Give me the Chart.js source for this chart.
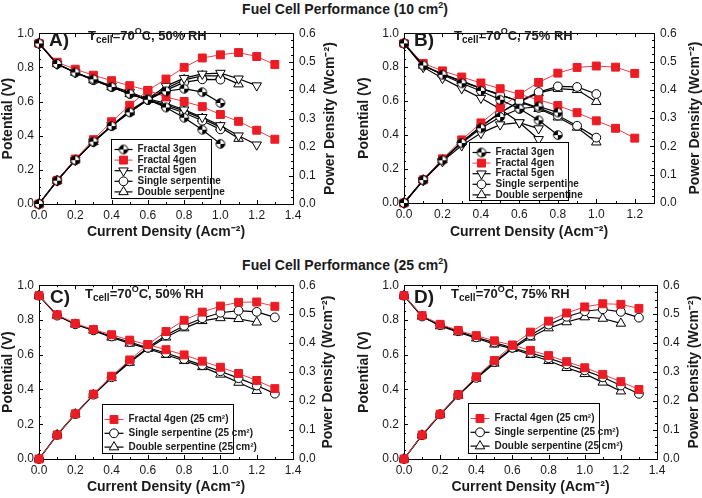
<!DOCTYPE html>
<html>
<head>
<meta charset="utf-8">
<script src="https://cdn.jsdelivr.net/npm/chart.js@4.4.0/dist/chart.umd.min.js"></script>
<style>
  body { margin: 0; background: #fff; width: 702px; height: 498px; position: relative; overflow: hidden;
         font-family: 'Liberation Sans', Arial, sans-serif; color: #1a1a1a; }
  canvas { position: absolute; }
  .title { position: absolute; left: 0; width: 690px; text-align: center; font-weight: bold; font-size: 14px; line-height: 18px; }
  .tag { position: absolute; font-weight: bold; font-size: 19px; line-height: 20px; }
  .cond { position: absolute; font-weight: bold; font-size: 13px; line-height: 16px; white-space: nowrap; }
  .cond sub { font-size: 10px; vertical-align: -3px; line-height: 0; }
  .cond sup { font-size: 9px; vertical-align: 6px; line-height: 0; }
  .title sup { font-size: 9px; vertical-align: 6px; line-height: 0; }
</style>
</head>
<body>
<div class="title" style="top:0px">Fuel Cell Performance (10 cm<sup>2</sup>)</div>
<div class="title" style="top:256px">Fuel Cell Performance (25 cm<sup>2</sup>)</div>

<canvas id="chartA" width="351" height="225" style="left:0;top:20px"></canvas>
<canvas id="chartB" width="351" height="225" style="left:351px;top:20px"></canvas>
<canvas id="chartC" width="351" height="226" style="left:0;top:272px"></canvas>
<canvas id="chartD" width="351" height="226" style="left:351px;top:272px"></canvas>

<div class="tag" style="left:49px;top:30px">A)</div>
<div class="cond" style="left:88px;top:28px">T<sub>cell</sub>=70<sup>O</sup>C, 50% RH</div>
<div class="tag" style="left:414px;top:30px">B)</div>
<div class="cond" style="left:454px;top:28px">T<sub>cell</sub>=70<sup>O</sup>C, 75% RH</div>
<div class="tag" style="left:50px;top:287px">C)</div>
<div class="cond" style="left:85px;top:286px">T<sub>cell</sub>=70<sup>O</sup>C, 50% RH</div>
<div class="tag" style="left:414px;top:287px">D)</div>
<div class="cond" style="left:451px;top:286px">T<sub>cell</sub>=70<sup>O</sup>C, 75% RH</div>

<script>
// current density steps (A/cm2)
const current = [0, 0.1, 0.2, 0.3, 0.4, 0.5, 0.6, 0.7, 0.8, 0.9, 1.0, 1.1, 1.2, 1.3];
const xTicks = [0, 0.2, 0.4, 0.6, 0.8, 1.0, 1.2, 1.4];
const vTicks = [0, 0.2, 0.4, 0.6, 0.8, 1.0];
const pTicks = [0, 0.1, 0.2, 0.3, 0.4, 0.5, 0.6];

// A) 10 cm2, 50% RH
const aFrac3V = [0.94, 0.82, 0.77, 0.73, 0.685, 0.645, 0.61, 0.565, 0.505, 0.435, 0.352];
const aFrac3P = [0, 0.082, 0.154, 0.219, 0.274, 0.322, 0.366, 0.396, 0.405, 0.393, 0.355];
const aFrac4V = [0.94, 0.83, 0.789, 0.754, 0.722, 0.693, 0.665, 0.627, 0.60, 0.57, 0.524, 0.484, 0.432, 0.379];
const aFrac4P = [0, 0.083, 0.158, 0.226, 0.289, 0.347, 0.399, 0.439, 0.48, 0.513, 0.524, 0.532, 0.518, 0.49];
const aFrac5V = [0.94, 0.82, 0.77, 0.73, 0.69, 0.655, 0.615, 0.59, 0.552, 0.508, 0.46, 0.40, 0.347];
const aFrac5P = [0, 0.082, 0.154, 0.219, 0.276, 0.328, 0.369, 0.414, 0.442, 0.457, 0.46, 0.44, 0.416];
const aSingleV = [0.94, 0.82, 0.77, 0.725, 0.685, 0.645, 0.61, 0.571, 0.534, 0.487, 0.437];
const aSingleP = [0, 0.082, 0.154, 0.218, 0.274, 0.323, 0.366, 0.40, 0.427, 0.438, 0.437];
const aDoubleV = [0.94, 0.82, 0.77, 0.725, 0.685, 0.645, 0.61, 0.58, 0.545, 0.50, 0.45, 0.383];
const aDoubleP = [0, 0.082, 0.154, 0.218, 0.274, 0.323, 0.366, 0.406, 0.436, 0.45, 0.45, 0.421];

// B) 10 cm2, 75% RH
const bFrac3V = [0.94, 0.81, 0.755, 0.705, 0.66, 0.608, 0.555, 0.487, 0.40];
const bFrac3P = [0, 0.081, 0.151, 0.212, 0.264, 0.304, 0.333, 0.341, 0.32];
const bFrac4V = [0.94, 0.822, 0.778, 0.742, 0.707, 0.673, 0.64, 0.608, 0.574, 0.532, 0.484, 0.44, 0.382];
const bFrac4P = [0, 0.082, 0.156, 0.223, 0.283, 0.337, 0.384, 0.426, 0.459, 0.479, 0.484, 0.48, 0.458];
const bFrac5V = [0.94, 0.80, 0.735, 0.675, 0.618, 0.554, 0.474, 0.375];
const bFrac5P = [0, 0.08, 0.147, 0.203, 0.247, 0.277, 0.284, 0.263];
const bSingleV = [0.94, 0.81, 0.76, 0.715, 0.675, 0.635, 0.60, 0.56, 0.515, 0.455, 0.385];
const bSingleP = [0, 0.081, 0.152, 0.215, 0.27, 0.318, 0.36, 0.392, 0.412, 0.41, 0.385];
const bDoubleV = [0.94, 0.81, 0.76, 0.72, 0.675, 0.64, 0.595, 0.555, 0.505, 0.445, 0.358];
const bDoubleP = [0, 0.081, 0.152, 0.216, 0.27, 0.32, 0.357, 0.389, 0.404, 0.40, 0.358];

// C) 25 cm2, 50% RH
const cFrac4V = [0.94, 0.83, 0.78, 0.745, 0.715, 0.684, 0.658, 0.629, 0.599, 0.563, 0.528, 0.492, 0.452, 0.405];
const cFrac4P = [0, 0.083, 0.156, 0.224, 0.286, 0.342, 0.395, 0.44, 0.479, 0.507, 0.528, 0.541, 0.542, 0.527];
const cSingleV = [0.94, 0.825, 0.775, 0.74, 0.705, 0.673, 0.64, 0.61, 0.575, 0.54, 0.505, 0.465, 0.423, 0.376];
const cSingleP = [0, 0.083, 0.155, 0.222, 0.282, 0.337, 0.384, 0.427, 0.46, 0.486, 0.505, 0.512, 0.508, 0.489];
const cDoubleV = [0.94, 0.825, 0.775, 0.74, 0.70, 0.665, 0.635, 0.60, 0.565, 0.53, 0.487, 0.44, 0.393];
const cDoubleP = [0, 0.083, 0.155, 0.222, 0.28, 0.333, 0.381, 0.42, 0.452, 0.477, 0.487, 0.484, 0.472];

// D) 25 cm2, 75% RH
const dFrac4V = [0.94, 0.825, 0.775, 0.74, 0.71, 0.68, 0.655, 0.625, 0.595, 0.56, 0.525, 0.487, 0.445, 0.40];
const dFrac4P = [0, 0.083, 0.155, 0.222, 0.284, 0.34, 0.393, 0.438, 0.476, 0.504, 0.525, 0.536, 0.534, 0.52];
const dSingleV = [0.94, 0.82, 0.77, 0.735, 0.70, 0.67, 0.64, 0.61, 0.58, 0.545, 0.51, 0.47, 0.423, 0.375];
const dSingleP = [0, 0.082, 0.154, 0.221, 0.28, 0.335, 0.384, 0.427, 0.464, 0.491, 0.51, 0.517, 0.508, 0.488];
const dDoubleV = [0.94, 0.82, 0.765, 0.73, 0.695, 0.66, 0.635, 0.60, 0.565, 0.525, 0.49, 0.441, 0.39];
const dDoubleP = [0, 0.082, 0.153, 0.219, 0.278, 0.33, 0.381, 0.42, 0.452, 0.473, 0.49, 0.485, 0.468];

const RED = '#ec1c24';
const RED_LINE = '#e0414a';
const INK = '#1a1a1a';
const FONT = "'Liberation Sans', Arial, sans-serif";

// circle with two black quadrants (Fractal 3gen marker)
function quadMarker(r) {
    const c = document.createElement('canvas');
    const s = Math.ceil(r * 2 + 3);
    c.width = c.height = s;
    const g = c.getContext('2d');
    const m = s / 2;
    g.fillStyle = '#fff';
    g.beginPath(); g.arc(m, m, r, 0, Math.PI * 2); g.fill();
    g.fillStyle = '#000';
    g.beginPath(); g.moveTo(m, m); g.arc(m, m, r, Math.PI, 1.5 * Math.PI); g.closePath(); g.fill();
    g.beginPath(); g.moveTo(m, m); g.arc(m, m, r, 0, 0.5 * Math.PI); g.closePath(); g.fill();
    g.strokeStyle = '#000'; g.lineWidth = 1;
    g.beginPath(); g.arc(m, m, r, 0, Math.PI * 2); g.stroke();
    return c;
}
const quad = quadMarker(4.3);

const styles = {
    frac3:  { style: quad, r: 4.3, fill: '#fff', edge: '#000', line: '#000', lw: 1.2 },
    frac4:  { style: 'rect', r: 5.6, fill: RED, edge: RED, line: RED_LINE, lw: 1 },
    frac5:  { style: 'triangle', rot: 180, r: 5.5, fill: '#fff', edge: '#000', line: '#000', lw: 1.2 },
    single: { style: 'circle', r: 4.4, fill: '#fff', edge: '#000', line: '#000', lw: 1.2 },
    double: { style: 'triangle', r: 5.5, fill: '#fff', edge: '#000', line: '#000', lw: 1.2 }
};

function makeSets(label, st, volts, power) {
    const base = {
        label: label, borderColor: st.line, backgroundColor: st.fill,
        pointBackgroundColor: st.fill, pointBorderColor: st.edge,
        pointStyle: st.style, pointRotation: st.rot || 0, pointRadius: st.r,
        pointHoverRadius: st.r, pointBorderWidth: 1, borderWidth: st.lw,
        tension: 0, clip: false
    };
    return [
        { ...base, yAxisID: 'y', data: volts.map((v, i) => ({ x: current[i], y: v })) },
        { ...base, yAxisID: 'y2', data: power.map((v, i) => ({ x: current[i], y: v })) }
    ];
}

// box, inward ticks
const framePlugin = {
    id: 'frame',
    beforeDatasetsDraw(chart) {
        const { ctx, chartArea: a, scales } = chart;
        ctx.save();
        ctx.strokeStyle = '#000';
        ctx.lineWidth = 1;
        ctx.strokeRect(Math.round(a.left) + 0.5, Math.round(a.top) + 0.5,
                       Math.round(a.width), Math.round(a.height));
        ctx.beginPath();
        const tick = (scale, v, major, side) => {
            const len = major ? 4 : 2;
            const p = Math.round(scale.getPixelForValue(v)) + 0.5;
            if (side === 'bottom') { ctx.moveTo(p, a.bottom); ctx.lineTo(p, a.bottom - len); }
            if (side === 'top') { ctx.moveTo(p, a.top); ctx.lineTo(p, a.top + len); }
            if (side === 'left') { ctx.moveTo(a.left, p); ctx.lineTo(a.left + len, p); }
            if (side === 'right') { ctx.moveTo(a.right, p); ctx.lineTo(a.right - len, p); }
        };
        const xs = scales.x;
        for (let i = 0; i * 0.1 <= xs.max + 1e-9; i++) {
            tick(xs, i * 0.1, i % 2 === 0, 'bottom');
            tick(xs, i * 0.1, i % 2 === 0, 'top');
        }
        for (let i = 0; i <= 20; i++) tick(scales.y, i * 0.05, i % 4 === 0, 'left');
        for (let i = 0; i <= 24; i++) tick(scales.y2, i * 0.025, i % 4 === 0, 'right');
        ctx.stroke();
        ctx.restore();
    }
};

// right axis title reading bottom to top
const rightTitlePlugin = {
    id: 'rightTitle',
    afterDraw(chart, args, opts) {
        const { ctx, chartArea: a } = chart;
        ctx.save();
        ctx.translate(chart.width - opts.offset, (a.top + a.bottom) / 2);
        ctx.rotate(-Math.PI / 2);
        ctx.font = 'bold 14px ' + FONT;
        ctx.fillStyle = INK;
        ctx.textAlign = 'center';
        ctx.textBaseline = 'middle';
        ctx.fillText('Power Density (Wcm\u207B\u00B2)', 0, 0);
        ctx.restore();
    }
};

// boxed legend inside the plot
const boxLegendPlugin = {
    id: 'boxLegend',
    afterDatasetsDraw(chart, args, o) {
        const { ctx, chartArea: a } = chart;
        const x = Math.round(a.left + o.x * a.width) + 0.5;
        const y = Math.round(a.top + o.y * a.height) + 0.5;
        const w = Math.round(o.w * a.width), h = Math.round(o.h * a.height);
        ctx.save();
        ctx.fillStyle = '#fff';
        ctx.fillRect(x, y, w, h);
        ctx.strokeStyle = '#000';
        ctx.lineWidth = 1;
        ctx.strokeRect(x, y, w, h);
        ctx.font = 'bold ' + o.fontSize + 'px ' + FONT;
        ctx.textBaseline = 'middle';
        const n = chart.data.datasets.length / 2;
        for (let k = 0; k < n; k++) {
            const ds = chart.data.datasets[k * 2];
            const ly = y + o.first + k * o.step;
            ctx.strokeStyle = ds.borderColor;
            ctx.lineWidth = ds.borderWidth;
            ctx.beginPath();
            ctx.moveTo(x + o.lineFrom, ly);
            ctx.lineTo(x + o.lineTo, ly);
            ctx.stroke();
            ctx.fillStyle = ds.pointBackgroundColor;
            ctx.strokeStyle = ds.pointBorderColor;
            ctx.lineWidth = 1;
            Chart.helpers.drawPoint(ctx, {
                pointStyle: ds.pointStyle, rotation: ds.pointRotation,
                radius: ds.pointRadius, borderWidth: 1
            }, x + (o.lineFrom + o.lineTo) / 2, ly);
            ctx.fillStyle = INK;
            ctx.fillText(ds.label, x + o.text, ly);
        }
        ctx.restore();
    }
};

function makeChart(id, datasets, lay) {
    const tickFont = { family: FONT, size: 12 };
    const titleFont = { family: FONT, size: 14, weight: 'bold' };
    const noGrid = { display: false, drawTicks: false };
    return new Chart(document.getElementById(id), {
        type: 'line',
        data: { datasets: datasets },
        options: {
            responsive: false,
            animation: false,
            events: [],
            layout: { padding: { top: lay.top, right: lay.right, left: lay.left, bottom: 0 } },
            plugins: {
                legend: { display: false },
                tooltip: { enabled: false },
                rightTitle: { offset: lay.rightTitle },
                boxLegend: lay.legend
            },
            scales: {
                x: {
                    type: 'linear', min: 0, max: lay.xMax,
                    afterBuildTicks: s => { s.ticks = xTicks.filter(v => v <= lay.xMax + 1e-9).map(v => ({ value: v })); },
                    afterFit: s => { s.height = lay.xHeight; },
                    grid: noGrid, border: { display: false },
                    ticks: { font: tickFont, color: INK, padding: 4, callback: v => v.toFixed(1) },
                    title: { display: true, text: 'Current Density (Acm\u207B\u00B2)', font: titleFont, color: INK, padding: { top: 0, bottom: lay.xTitlePad } }
                },
                y: {
                    position: 'left', min: 0, max: 1,
                    afterBuildTicks: s => { s.ticks = vTicks.map(v => ({ value: v })); },
                    afterFit: s => { s.width = lay.yWidth; },
                    grid: noGrid, border: { display: false },
                    ticks: { font: tickFont, color: INK, padding: 5, callback: v => v.toFixed(1) },
                    title: { display: true, text: 'Potential (V)', font: titleFont, color: INK, padding: { top: 0, bottom: 0 } }
                },
                y2: {
                    position: 'right', min: 0, max: 0.6,
                    afterBuildTicks: s => { s.ticks = pTicks.map(v => ({ value: v })); },
                    afterFit: s => { s.width = lay.y2Width; },
                    grid: noGrid, border: { display: false },
                    ticks: { font: tickFont, color: INK, padding: 6, callback: v => v.toFixed(1) }
                }
            }
        },
        plugins: [framePlugin, boxLegendPlugin, rightTitlePlugin]
    });
}

const legend10 = { fontSize: 10, first: 10, step: 10.6, lineFrom: 3, lineTo: 21, text: 26 };
const legend25 = { fontSize: 10, first: 15, step: 13.8, lineFrom: 2, lineTo: 21, text: 26 };

makeChart('chartA', [
    ...makeSets('Fractal 3gen', styles.frac3, aFrac3V, aFrac3P),
    ...makeSets('Fractal 4gen', styles.frac4, aFrac4V, aFrac4P),
    ...makeSets('Fractal 5gen', styles.frac5, aFrac5V, aFrac5P),
    ...makeSets('Single serpentine', styles.single, aSingleV, aSingleP),
    ...makeSets('Double serpentine', styles.double, aDoubleV, aDoubleP)
], { top: 9, right: 8, left: 0, xMax: 1.4, xHeight: 41, yWidth: 39, y2Width: 50, rightTitle: 21, xTitlePad: 4,
     legend: { ...legend10, x: 0.283, y: 0.617, w: 0.394, h: 0.343 } });

makeChart('chartB', [
    ...makeSets('Fractal 3gen', styles.frac3, bFrac3V, bFrac3P),
    ...makeSets('Fractal 4gen', styles.frac4, bFrac4V, bFrac4P),
    ...makeSets('Fractal 5gen', styles.frac5, bFrac5V, bFrac5P),
    ...makeSets('Single serpentine', styles.single, bSingleV, bSingleP),
    ...makeSets('Double serpentine', styles.double, bDoubleV, bDoubleP)
], { top: 9, right: 4, left: 5, xMax: 1.3, xHeight: 42, yWidth: 48, y2Width: 44, rightTitle: 7, xTitlePad: 4,
     legend: { ...legend10, x: 0.26, y: 0.638, w: 0.396, h: 0.339 } });

makeChart('chartC', [
    ...makeSets('Fractal 4gen (25 cm\u00B2)', styles.frac4, cFrac4V, cFrac4P),
    ...makeSets('Single serpentine (25 cm\u00B2)', styles.single, cSingleV, cSingleP),
    ...makeSets('Double serpentine (25 cm\u00B2)', styles.double, cDoubleV, cDoubleP)
], { top: 11, right: 8, left: 0, xMax: 1.4, xHeight: 39, yWidth: 39, y2Width: 50, rightTitle: 23, xTitlePad: 2,
     legend: { ...legend25, x: 0.248, y: 0.682, w: 0.516, h: 0.284 } });

makeChart('chartD', [
    ...makeSets('Fractal 4gen (25 cm\u00B2)', styles.frac4, dFrac4V, dFrac4P),
    ...makeSets('Single serpentine (25 cm\u00B2)', styles.single, dSingleV, dSingleP),
    ...makeSets('Double serpentine (25 cm\u00B2)', styles.double, dDoubleV, dDoubleP)
], { top: 13, right: 4, left: 5, xMax: 1.4, xHeight: 39, yWidth: 48, y2Width: 41, rightTitle: 8, xTitlePad: 2,
     legend: { ...legend25, x: 0.253, y: 0.678, w: 0.518, h: 0.287 } });
</script>
</body>
</html>
